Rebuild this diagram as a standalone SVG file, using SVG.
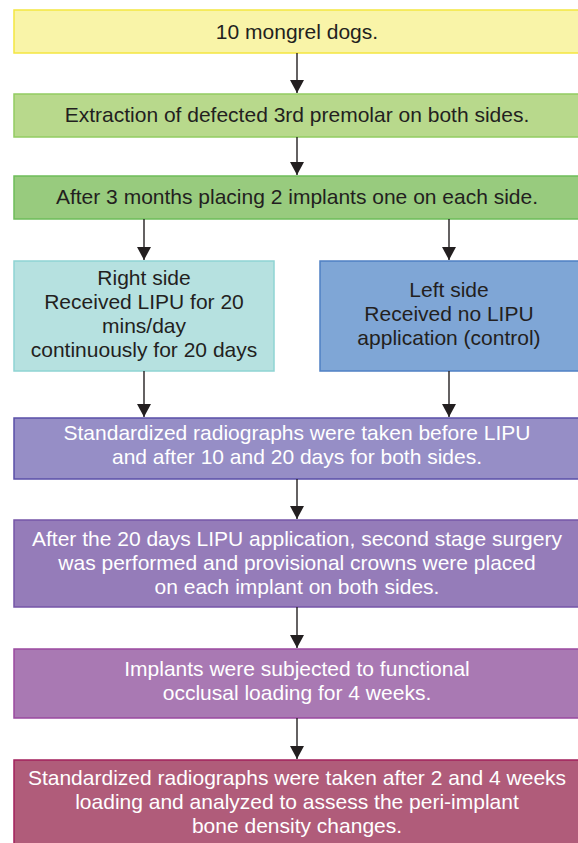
<svg xmlns="http://www.w3.org/2000/svg" width="578" height="843" viewBox="0 0 578 843">
<defs>
<marker id="ah" viewBox="0 0 13 14" refX="13" refY="7" markerWidth="13" markerHeight="14" markerUnits="userSpaceOnUse" orient="auto">
<path d="M0,0 L13,7 L0,14 Z" fill="#231f20"/>
</marker>
<style>
text{font-family:"Liberation Sans",Arial,sans-serif;font-size:21px;text-anchor:middle;}
.dk{fill:#231f20;}
.wt{fill:#ffffff;}
rect{stroke-width:1.5;}
.conn line{stroke:#231f20;stroke-width:1.4;}
</style>
</defs>
<rect x="0" y="0" width="578" height="843" fill="#ffffff"/>
<g id="n1"><rect x="14" y="10" width="570" height="43" fill="#f9f4a8" stroke="#f4e640"/><text class="dk" x="297" y="39">10 mongrel dogs.</text></g>
<g id="n2"><rect x="14" y="94" width="570" height="43" fill="#b8d98c" stroke="#92cc62"/><text class="dk" x="297" y="122">Extraction of defected 3rd premolar on both sides.</text></g>
<g id="n3"><rect x="14" y="176" width="570" height="43" fill="#98cb7e" stroke="#6dbd5a"/><text class="dk" x="297" y="204">After 3 months placing 2 implants one on each side.</text></g>
<g id="n4"><rect x="14" y="261" width="260" height="110" fill="#b6e1e0" stroke="#8fd4d3"/>
<text class="dk" x="144" y="285">Right side</text>
<text class="dk" x="144" y="309">Received LIPU for 20</text>
<text class="dk" x="144" y="333">mins/day</text>
<text class="dk" x="144" y="357">continuously for 20 days</text></g>
<g id="n5"><rect x="320" y="261" width="264" height="110" fill="#7fa6d6" stroke="#4f80c4"/>
<text class="dk" x="449" y="297">Left side</text>
<text class="dk" x="449" y="321">Received no LIPU</text>
<text class="dk" x="449" y="345">application (control)</text></g>
<g id="n6"><rect x="14" y="418" width="570" height="61" fill="#968ec6" stroke="#5a4fa8"/>
<text class="wt" x="297" y="440">Standardized radiographs were taken before LIPU</text>
<text class="wt" x="297" y="464">and after 10 and 20 days for both sides.</text></g>
<g id="n7"><rect x="14" y="520" width="570" height="87" fill="#957cb9" stroke="#7655a8"/>
<text class="wt" x="297" y="546">After the 20 days LIPU application, second stage surgery</text>
<text class="wt" x="297" y="570">was performed and provisional crowns were placed</text>
<text class="wt" x="297" y="594">on each implant on both sides.</text></g>
<g id="n8"><rect x="14" y="649" width="570" height="69" fill="#a979b3" stroke="#9a4aa0"/>
<text class="wt" x="297" y="676">Implants were subjected to functional</text>
<text class="wt" x="297" y="700">occlusal loading for 4 weeks.</text></g>
<g id="n9"><rect x="14" y="760" width="570" height="90" fill="#b05c7a" stroke="#a3205c"/>
<text class="wt" x="297" y="785">Standardized radiographs were taken after 2 and 4 weeks</text>
<text class="wt" x="297" y="809">loading and analyzed to assess the peri-implant</text>
<text class="wt" x="297" y="833">bone density changes.</text></g>
<g class="conn" id="connectors">
<line x1="297" y1="53" x2="297" y2="93" marker-end="url(#ah)"/>
<line x1="297" y1="137" x2="297" y2="175" marker-end="url(#ah)"/>
<line x1="144" y1="219" x2="144" y2="260" marker-end="url(#ah)"/>
<line x1="449" y1="219" x2="449" y2="260" marker-end="url(#ah)"/>
<line x1="144" y1="371" x2="144" y2="417" marker-end="url(#ah)"/>
<line x1="449" y1="371" x2="449" y2="417" marker-end="url(#ah)"/>
<line x1="297" y1="479" x2="297" y2="519" marker-end="url(#ah)"/>
<line x1="297" y1="607" x2="297" y2="648" marker-end="url(#ah)"/>
<line x1="297" y1="718" x2="297" y2="759" marker-end="url(#ah)"/>
</g>
</svg>
